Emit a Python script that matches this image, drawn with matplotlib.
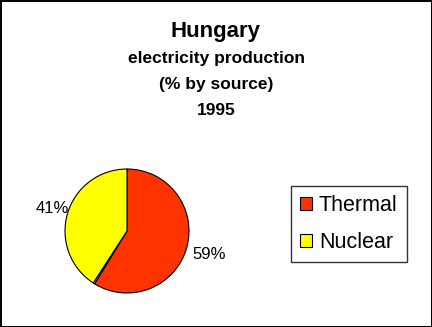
import matplotlib
matplotlib.use("Agg")
import numpy as np
import matplotlib.pyplot as plt

plt.rcParams['font.family'] = ['Liberation Sans', 'DejaVu Sans']

# Chart data
sources = ["Thermal", "Other", "Nuclear"]
shares = [59, 0.4, 41]
colors = ["#FF3300", "#FFFFFF", "#FFFF00"]
legend_sources = ["Thermal", "Nuclear"]
title_lines = ["Hungary", "electricity production", "(% by source)", "1995"]

W, H = 432, 327
fig = plt.figure(figsize=(W / 100, H / 100), dpi=100)
fig.patch.set_facecolor("white")
fig.patch.set_edgecolor("black")
fig.patch.set_linewidth(2)

# Pie placed in pixel terms: centre (127, 231), radius 62
cx, cy, r = 127, 231, 62
ax = fig.add_axes([(cx - r) / W, (H - cy - r) / H, 2 * r / W, 2 * r / H])
labels = [f"{v:.0f}%" if v >= 1 else "" for v in shares]
wedges, texts = ax.pie(shares, colors=colors, labels=labels, startangle=90,
                       counterclock=False,
                       wedgeprops=dict(edgecolor="black", linewidth=0.8),
                       textprops=dict(fontsize=12))
ax.set_xlim(-1, 1)
ax.set_ylim(-1, 1)
ax.set_aspect("equal")

# labels sit a bit further out for the big slice, like the Excel original
label_dist = [1.38, 0, 1.26]
for w, t, d in zip(wedges, texts, label_dist):
    ang = np.deg2rad((w.theta1 + w.theta2) / 2)
    t.set_position((d * np.cos(ang), d * np.sin(ang)))
    t.set_ha("center")
    t.set_va("center")

# Titles
fig.text(216 / W, 1 - 31 / H, title_lines[0], ha="center", va="center",
         fontsize=16, fontweight="bold")
for line, y in zip(title_lines[1:], [58, 85, 110]):
    fig.text(216 / W, 1 - y / H, line, ha="center", va="center",
             fontsize=12.5, fontweight="bold")

# Legend
handles = [wedges[sources.index(s)] for s in legend_sources]
leg = fig.legend(handles, legend_sources, loc="center",
                 bbox_to_anchor=(349 / W, 1 - 224 / H), fontsize=15.5,
                 frameon=True, fancybox=False, edgecolor="black",
                 handlelength=0.56, handleheight=0.56, handletextpad=0.3,
                 labelspacing=0.72, borderpad=0.45, borderaxespad=0)
leg.get_frame().set_linewidth(1)

fig.savefig("out.png", dpi=100)
